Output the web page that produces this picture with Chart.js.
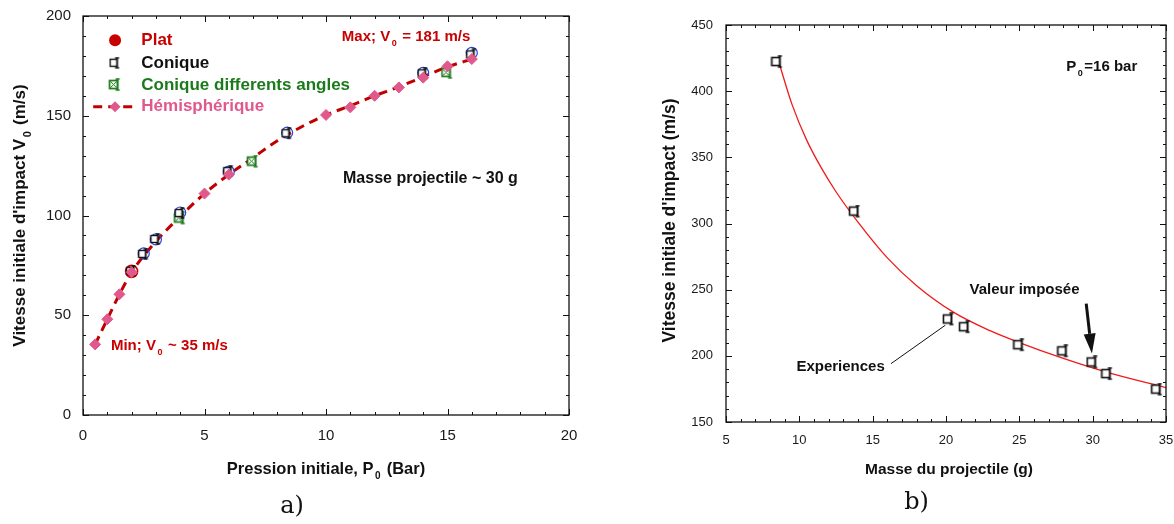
<!DOCTYPE html>
<html lang="fr">
<head>
<meta charset="UTF-8">
<title>Vitesse initiale d'impact</title>
<script src="https://cdn.jsdelivr.net/npm/chart.js"></script>
<style>
  html, body { margin: 0; padding: 0; background: #fff; }
  body { width: 1174px; height: 524px; position: relative; overflow: hidden; }
  canvas { position: absolute; top: 0; }
  #chartA { left: 0; }
  #chartB { left: 600px; }
</style>
</head>
<body>
<canvas id="chartA" width="600" height="524"></canvas>
<canvas id="chartB" width="574" height="524"></canvas>
<script>
// a) vitesse initiale vs pression initiale
const hemiP = [0.5, 1, 1.5, 2, 5, 6, 10, 11, 12, 13, 14, 15, 16];
const hemiV = [35.4, 48, 60.5, 71.5, 111, 120.5, 150.4, 154.2, 160, 164.2, 169.1, 174.8, 178.4];
const hemiCurveP = [0.5, 1, 1.5, 2, 3, 4, 5, 6, 7, 8, 9, 10, 11, 12, 13, 14, 15, 16];
const hemiCurveV = [35.4, 48, 60.5, 71.5, 87, 99.5, 111, 120.5, 129, 137.5, 144.5, 150.4, 155, 160, 164.5, 169.5, 174.5, 178.4];
const coniqueP = [2, 2.5, 3, 4, 6, 8.4, 14, 16];
const coniqueV = [72, 80.5, 88, 101, 122, 141, 171, 180.5];
const anglesP = [4, 7, 15];
const anglesV = [98.5, 127, 171.5];
const cerclesP = [2.5, 3, 4, 6, 8.4, 14, 16];
const cerclesV = [81, 88, 101.5, 122, 141.5, 171.5, 181.5];
const platP = [2];
const platV = [72];

// b) vitesse initiale vs masse du projectile
const masseG = [8.5, 13.8, 20.2, 21.3, 25, 28, 30, 31, 34.4];
const vitesseB = [422, 309, 227.5, 221.6, 208, 203.4, 195, 186.2, 174.5];
const fitMasse = [8.6, 9.5, 10.5, 11.5, 12.5, 14, 16, 18, 20.5, 23, 25, 28, 31, 35];
const fitVitesse = [422, 390, 363, 342, 324, 301, 274, 253, 233, 219, 210, 198, 187.5, 176];

const FONT = "'Liberation Sans', Arial, sans-serif";
const RED = '#c80000';
const PINK = '#e0588c';
const GREEN = '#1b7a1b';
const BLUE = '#2a3fe0';

Chart.defaults.font.family = FONT;
Chart.defaults.color = '#1a1a1a';

const pts = (xs, ys) => xs.map((v, i) => ({ x: v, y: ys[i] }));

function glyph(w, h, draw) {
  const c = document.createElement('canvas');
  c.width = w; c.height = h;
  draw(c.getContext('2d'));
  return c;
}

// open square with an error bar, as in the original markers
function squareI(color, s, cross, lw) {
  return glyph(s + 4, s + 4, g => {
    g.fillStyle = '#fff';
    g.strokeStyle = color;
    g.lineWidth = lw;
    g.fillRect(1.5, 2.5, s - 2, s - 2);
    g.strokeRect(1.5, 2.5, s - 2, s - 2);
    if (cross) {
      g.lineWidth = 1;
      g.beginPath();
      g.moveTo(2.5, 3.5); g.lineTo(s - 1.5, s - 0.5);
      g.moveTo(s - 1.5, 3.5); g.lineTo(2.5, s - 0.5);
      g.stroke();
    }
    const bx = s - 0.5;
    g.lineWidth = 1.6;
    g.beginPath();
    g.moveTo(bx, 1); g.lineTo(bx, s + 2);
    g.moveTo(bx - 2, 1); g.lineTo(bx + 2, 1);
    g.moveTo(bx - 2, s + 2); g.lineTo(bx + 2, s + 2);
    g.stroke();
  });
}

const coniqueGlyph = squareI('#111', 9, false, 1.4);
const anglesGlyph = squareI(GREEN, 10, true, 1.7);
const massGlyph = squareI('#111', 10, false, 1.6);

// text with subscripts: parts = [[text, isSub], ...]
function drawRich(ctx, parts, x, y, size, color, align) {
  const big = 'bold ' + size + 'px ' + FONT;
  const small = 'bold ' + Math.round(size * 0.62) + 'px ' + FONT;
  let total = 0;
  parts.forEach(p => {
    ctx.font = p[1] ? small : big;
    total += ctx.measureText(p[0]).width + (p[1] ? 3 : 0);
  });
  let cx = align === 'center' ? x - total / 2 : x;
  ctx.save();
  ctx.fillStyle = color;
  ctx.textAlign = 'left';
  ctx.textBaseline = 'middle';
  parts.forEach(p => {
    ctx.font = p[1] ? small : big;
    const w = ctx.measureText(p[0]).width;
    ctx.fillText(p[0], cx + (p[1] ? 1.5 : 0), p[1] ? y + size * 0.45 : y);
    cx += w + (p[1] ? 3 : 0);
  });
  ctx.restore();
}

function drawRotated(ctx, parts, x, y, size) {
  ctx.save();
  ctx.translate(x, y);
  ctx.rotate(-Math.PI / 2);
  drawRich(ctx, parts, 0, 0, size, '#111', 'center');
  ctx.restore();
}

function drawLabel(ctx, text, x, y) {
  ctx.save();
  ctx.font = "24px 'DejaVu Serif', 'Liberation Serif', serif";
  ctx.fillStyle = '#111';
  ctx.textAlign = 'center';
  ctx.textBaseline = 'middle';
  ctx.fillText(text, x, y);
  ctx.restore();
}

const isMajor = (v, m) => Math.abs(v / m - Math.round(v / m)) < 1e-6;

// box around the plot with inward ticks on all four sides
const frameTicks = {
  id: 'frameTicks',
  afterDatasetsDraw(chart, args, o) {
    const { ctx, chartArea: a, scales: { x, y } } = chart;
    ctx.save();
    ctx.strokeStyle = '#111';
    ctx.lineWidth = 1.3;
    ctx.strokeRect(a.left, a.top, a.right - a.left, a.bottom - a.top);
    ctx.lineWidth = 1;
    ctx.beginPath();
    for (let v = x.min; v <= x.max + 1e-9; v += o.xMinor) {
      const px = Math.round(x.getPixelForValue(v)) + 0.5;
      const len = isMajor(v, o.xMajor) ? 6 : 3;
      ctx.moveTo(px, a.bottom); ctx.lineTo(px, a.bottom - len);
      ctx.moveTo(px, a.top); ctx.lineTo(px, a.top + len);
    }
    for (let v = y.min; v <= y.max + 1e-9; v += o.yMinor) {
      const py = Math.round(y.getPixelForValue(v)) + 0.5;
      const len = isMajor(v, o.yMajor) ? 6 : 3;
      ctx.moveTo(a.left, py); ctx.lineTo(a.left + len, py);
      ctx.moveTo(a.right, py); ctx.lineTo(a.right - len, py);
    }
    ctx.stroke();
    ctx.restore();
  }
};

const notesA = {
  id: 'notesA',
  afterDraw(chart) {
    const { ctx, chartArea: a, scales: { x, y } } = chart;
    const X = v => x.getPixelForValue(v), Y = v => y.getPixelForValue(v);

    drawRich(ctx, [['Max; V'], ['0', 1], [' = 181 m/s']], X(10.65), Y(189.6), 15, RED, 'left');
    drawRich(ctx, [['Min; V'], ['0', 1], [' ~ 35 m/s']], X(1.15), Y(34.7), 15, RED, 'left');
    drawRich(ctx, [['Masse projectile ~ 30 g']], X(10.7), Y(118.6), 16, '#111', 'left');

    // legend
    const sx = X(1.32), tx = X(2.4);
    const rows = [Y(187.9), Y(176.3), Y(165.4), Y(154.5)];
    ctx.save();
    ctx.fillStyle = RED;
    ctx.beginPath(); ctx.arc(sx, rows[0], 6, 0, Math.PI * 2); ctx.fill();
    ctx.drawImage(coniqueGlyph, sx - coniqueGlyph.width / 2, rows[1] - coniqueGlyph.height / 2);
    ctx.drawImage(anglesGlyph, sx - anglesGlyph.width / 2, rows[2] - anglesGlyph.height / 2);
    ctx.strokeStyle = '#c00000';
    ctx.lineWidth = 3;
    ctx.setLineDash([9, 6]);
    ctx.beginPath(); ctx.moveTo(X(0.42), rows[3]); ctx.lineTo(X(2.27), rows[3]); ctx.stroke();
    ctx.setLineDash([]);
    ctx.fillStyle = PINK;
    ctx.beginPath();
    ctx.moveTo(sx, rows[3] - 5.5); ctx.lineTo(sx + 5.5, rows[3]);
    ctx.lineTo(sx, rows[3] + 5.5); ctx.lineTo(sx - 5.5, rows[3]);
    ctx.closePath(); ctx.fill();
    ctx.restore();
    drawRich(ctx, [['Plat']], tx, rows[0], 17, RED, 'left');
    drawRich(ctx, [['Conique']], tx, rows[1], 17, '#111', 'left');
    drawRich(ctx, [['Conique differents angles']], tx, rows[2], 17, GREEN, 'left');
    drawRich(ctx, [['Hémisphérique']], tx, rows[3], 17, PINK, 'left');

    // axis titles
    drawRich(ctx, [['Pression initiale, P'], ['0', 1], [' (Bar)']], (a.left + a.right) / 2, 469, 16.5, '#111', 'center');
    drawRotated(ctx, [["Vitesse initiale d'impact V"], ['0', 1], [' (m/s)']], 20, (a.top + a.bottom) / 2, 17);
    drawLabel(ctx, 'a)', 292, 507);
  }
};

const notesB = {
  id: 'notesB',
  afterDraw(chart) {
    const { ctx, chartArea: a, scales: { x, y } } = chart;
    const X = v => x.getPixelForValue(v), Y = v => y.getPixelForValue(v);

    drawRich(ctx, [['P'], ['0', 1], ['=16 bar']], X(28.2), Y(418.5), 15, '#111', 'left');
    drawRich(ctx, [['Valeur imposée']], X(21.6), Y(250), 15, '#111', 'left');
    drawRich(ctx, [['Experiences']], X(9.8), Y(191.5), 15, '#111', 'left');

    ctx.save();
    ctx.strokeStyle = '#111';
    ctx.lineWidth = 1;
    ctx.beginPath(); ctx.moveTo(X(16.25), Y(194.1)); ctx.lineTo(X(19.95), Y(223.1)); ctx.stroke();

    // arrow towards the imposed value
    const x0 = X(29.56), y0 = Y(239.5), x1 = X(29.95), y1 = Y(201.7);
    const ang = Math.atan2(y1 - y0, x1 - x0);
    const hl = 20, hw = 6;
    const bx = x1 - hl * Math.cos(ang), by = y1 - hl * Math.sin(ang);
    ctx.lineWidth = 3;
    ctx.beginPath(); ctx.moveTo(x0, y0); ctx.lineTo(bx, by); ctx.stroke();
    ctx.fillStyle = '#111';
    ctx.beginPath();
    ctx.moveTo(x1, y1);
    ctx.lineTo(bx + hw * Math.sin(ang), by - hw * Math.cos(ang));
    ctx.lineTo(bx - hw * Math.sin(ang), by + hw * Math.cos(ang));
    ctx.closePath(); ctx.fill();
    ctx.restore();

    drawRich(ctx, [['Masse du projectile (g)']], (a.left + a.right) / 2 + 3, 470, 15.5, '#111', 'center');
    drawRotated(ctx, [["Vitesse initiale d'impact (m/s)"]], 70, (a.top + a.bottom) / 2 - 3, 17.5);
    drawLabel(ctx, 'b)', 316.5, 503);
  }
};

// fixed axis sizes so the plot box lands where it is in the figure
function fixSize(s, key, val) {
  s[key] = val;
  s.paddingTop = s.paddingBottom = s.paddingLeft = s.paddingRight = 0;
}

function axes(xMin, xMax, yMin, yMax, xh, yw, tickSize, xPad, yPad) {
  const common = { grid: { display: false, drawTicks: false }, border: { display: false } };
  return {
    x: { ...common, type: 'linear', min: xMin, max: xMax, afterFit: s => fixSize(s, 'height', xh),
      ticks: { stepSize: 5, padding: xPad, font: { size: tickSize }, maxRotation: 0, autoSkip: false } },
    y: { ...common, type: 'linear', min: yMin, max: yMax, afterFit: s => fixSize(s, 'width', yw),
      ticks: { stepSize: 50, padding: yPad, font: { size: tickSize }, autoSkip: false } }
  };
}

new Chart(document.getElementById('chartA'), {
  type: 'scatter',
  data: {
    datasets: [
      { label: 'Hémisphérique', data: pts(hemiP, hemiV), pointStyle: 'rectRot', pointRadius: 5.5,
        backgroundColor: PINK, borderColor: PINK, borderWidth: 1 },
      { label: 'Conique', data: pts(coniqueP, coniqueV), pointStyle: coniqueGlyph, pointRadius: 5 },
      { label: 'Conique differents angles', data: pts(anglesP, anglesV), pointStyle: anglesGlyph, pointRadius: 5 },
      { label: 'Plat (cercles)', data: pts(cerclesP, cerclesV), pointStyle: 'circle', pointRadius: 5.5,
        backgroundColor: 'rgba(0,0,0,0)', borderColor: BLUE, borderWidth: 1.2 },
      { label: 'Plat', data: pts(platP, platV), pointStyle: 'circle', pointRadius: 6,
        backgroundColor: 'rgba(0,0,0,0)', borderColor: RED, borderWidth: 1.6 },
      { label: 'Hémisphérique (courbe)', data: pts(hemiCurveP, hemiCurveV), showLine: true, pointRadius: 0,
        borderColor: '#c00000', borderWidth: 3, borderDash: [9, 6], cubicInterpolationMode: 'monotone' }
    ]
  },
  options: {
    responsive: false, animation: false, events: [],
    layout: { padding: { left: 0, right: 31, top: 16, bottom: 0 } },
    plugins: { legend: { display: false }, tooltip: { enabled: false },
      frameTicks: { xMinor: 1, xMajor: 5, yMinor: 10, yMajor: 50 } },
    scales: axes(0, 20, 0, 200, 109, 83, 15, 12, 12)
  },
  plugins: [frameTicks, notesA]
});

new Chart(document.getElementById('chartB'), {
  type: 'scatter',
  data: {
    datasets: [
      { label: 'Experiences', data: pts(masseG, vitesseB), pointStyle: massGlyph, pointRadius: 5 },
      { label: 'Ajustement', data: pts(fitMasse, fitVitesse), showLine: true, pointRadius: 0,
        borderColor: '#ee1c1c', borderWidth: 1.3, cubicInterpolationMode: 'monotone' }
    ]
  },
  options: {
    responsive: false, animation: false, events: [],
    layout: { padding: { left: 0, right: 8, top: 25, bottom: 0 } },
    plugins: { legend: { display: false }, tooltip: { enabled: false },
      frameTicks: { xMinor: 1, xMajor: 5, yMinor: 10, yMajor: 50 } },
    scales: axes(5, 35, 150, 450, 102, 126, 13, 11, 13)
  },
  plugins: [frameTicks, notesB]
});
</script>
</body>
</html>
